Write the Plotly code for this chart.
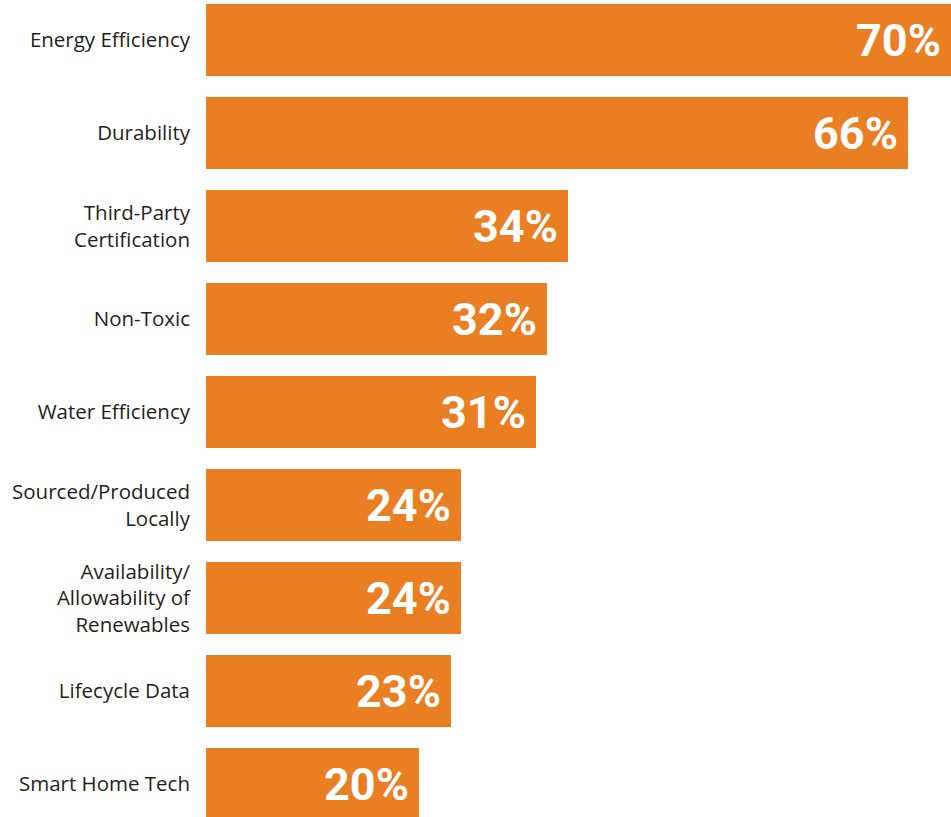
import plotly.graph_objects as go

# Share of respondents rating each attribute as important
categories = [
    "Energy Efficiency",
    "Durability",
    "Third-Party<br>Certification",
    "Non-Toxic",
    "Water Efficiency",
    "Sourced/Produced<br>Locally",
    "Availability/<br>Allowability of<br>Renewables",
    "Lifecycle Data",
    "Smart Home Tech",
]
values = [70, 66, 34, 32, 31, 24, 24, 23, 20]

BAR_COLOR = "#E97E22"
LABEL_COLOR = "#231F20"

fig = go.Figure(
    go.Bar(
        x=values,
        y=categories,
        orientation="h",
        marker=dict(color=BAR_COLOR, line=dict(width=0)),
        width=0.774,
        hoverinfo="skip",
    )
)

# Bold value labels sitting inside the right end of each bar
for cat, val in zip(categories, values):
    fig.add_annotation(
        x=val,
        y=cat,
        text=f"{val}%",
        showarrow=False,
        xanchor="right",
        yanchor="middle",
        xshift=-8,
        font=dict(
            family="Roboto, sans-serif",
            size=45,
            color="white",
            weight="bold",
        ),
    )

fig.update_layout(
    width=951,
    height=817,
    margin=dict(l=206, r=0, t=0, b=0),
    paper_bgcolor="white",
    plot_bgcolor="white",
    showlegend=False,
    bargap=0,
    xaxis=dict(
        range=[0, 70],
        visible=False,
        showgrid=False,
        zeroline=False,
    ),
    yaxis=dict(
        type="category",
        range=[8.352, -0.433],
        showgrid=False,
        zeroline=False,
        showline=False,
        ticks="",
        ticklabelstandoff=15,
        tickfont=dict(family="Open Sans, sans-serif", size=20.5, color=LABEL_COLOR),
    ),
)

fig.write_html("out.html")
